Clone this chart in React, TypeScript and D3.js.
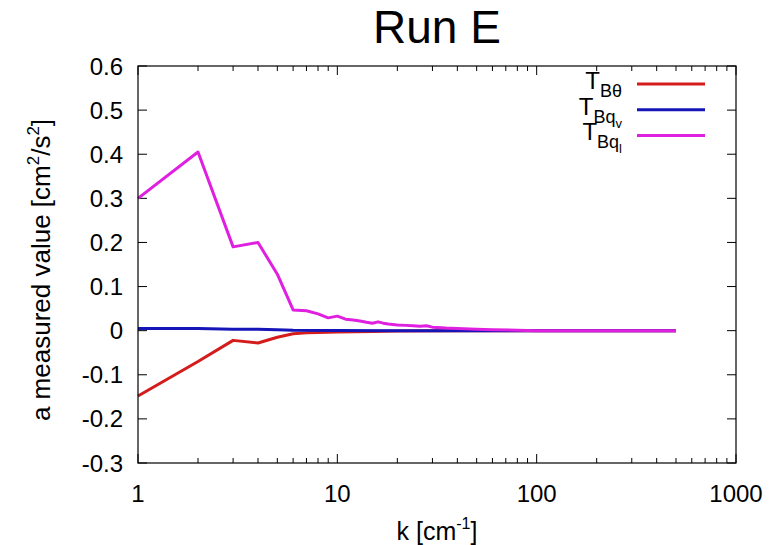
import React from "react";
import * as d3 from "d3";

const kMag = [1, 2, 3, 4, 5, 6, 7, 8, 9, 10, 11, 12, 13, 14, 15, 16, 17, 18, 20, 22, 24, 26, 28, 30, 35, 40, 50, 60, 80, 100, 200, 500];
const tBql = [0.3, 0.405, 0.19, 0.2, 0.128, 0.047, 0.045, 0.038, 0.029, 0.033, 0.026, 0.024, 0.022, 0.019, 0.017, 0.02, 0.017, 0.015, 0.013, 0.012, 0.011, 0.01, 0.011, 0.008, 0.006, 0.005, 0.003, 0.002, 0.001, 0.0, 0.0, 0.0];

const kRed = [1, 2, 3, 4, 5, 6, 7, 8, 10, 15, 20, 40, 100, 500];
const tBtheta = [-0.148, -0.07, -0.022, -0.028, -0.015, -0.007, -0.005, -0.004, -0.003, -0.002, -0.001, 0, 0, 0];

const kBlue = [1, 2, 3, 4, 5, 6, 10, 20, 100, 500];
const tBqv = [0.005, 0.005, 0.003, 0.003, 0.002, 0.001, 0.0005, 0, 0, 0];

const yTicks = [-0.3, -0.2, -0.1, 0, 0.1, 0.2, 0.3, 0.4, 0.5, 0.6];
const yTickLabels = ["-0.3", "-0.2", "-0.1", "0", "0.1", "0.2", "0.3", "0.4", "0.5", "0.6"];
const xTicks = [1, 10, 100, 1000];
const xTickLabels = ["1", "10", "100", "1000"];

const W = 780, H = 545;
const L = 138, R = 736, T = 66, B = 463;
const FONT = "'Liberation Sans', Arial, Helvetica, sans-serif";

export default function App() {
  const x = d3.scaleLog().domain([1, 1000]).range([L, R]);
  const y = d3.scaleLinear().domain([-0.3, 0.6]).range([B, T]);
  const line = d3.line<[number, number]>().x(d => x(d[0])).y(d => y(d[1]));

  const series = [
    { k: kRed, v: tBtheta, color: "#d41c1c", main: "T", sub: "Bθ", subsub: "" },
    { k: kBlue, v: tBqv, color: "#1616b8", main: "T", sub: "Bq", subsub: "v" },
    { k: kMag, v: tBql, color: "#e020e0", main: "T", sub: "Bq", subsub: "l" },
  ];

  const minor: number[] = [];
  for (let d = 1; d < 1000; d *= 10) for (let m = 2; m <= 9; m++) minor.push(d * m);

  return (
    <svg width={W} height={H} style={{ display: "block", position: "absolute", left: 0, top: 0 }} fontFamily={FONT}>
      <rect width={W} height={H} fill="#fff" />
      <text x={437} y={43} fontSize={46} textAnchor="middle" fill="#000">Run E</text>

      {/* y ticks */}
      {yTicks.map((t, i) => (
        <g key={"y" + t}>
          <line x1={L} x2={L + 9} y1={y(t)} y2={y(t)} stroke="#000" strokeWidth={1} />
          <line x1={R} x2={R - 9} y1={y(t)} y2={y(t)} stroke="#000" strokeWidth={1} />
          <text x={L - 15} y={y(t) + 8.5} fontSize={24} textAnchor="end" fill="#000">{yTickLabels[i]}</text>
        </g>
      ))}
      {/* x ticks */}
      {xTicks.map((t, i) => (
        <g key={"x" + t}>
          <line x1={x(t)} x2={x(t)} y1={B} y2={B - 9} stroke="#000" strokeWidth={1} />
          <line x1={x(t)} x2={x(t)} y1={T} y2={T + 9} stroke="#000" strokeWidth={1} />
          <text x={x(t)} y={B + 39} fontSize={24} textAnchor="middle" fill="#000">{xTickLabels[i]}</text>
        </g>
      ))}
      {minor.map(t => (
        <g key={"m" + t}>
          <line x1={x(t)} x2={x(t)} y1={B} y2={B - 5} stroke="#000" strokeWidth={1} />
          <line x1={x(t)} x2={x(t)} y1={T} y2={T + 5} stroke="#000" strokeWidth={1} />
        </g>
      ))}

      {/* data */}
      {series.map((s, i) => (
        <path key={i} d={line(s.k.map((k, j) => [k, s.v[j]] as [number, number])) || ""} fill="none" stroke={s.color} strokeWidth={3} strokeLinejoin="round" />
      ))}

      <rect x={L} y={T} width={R - L} height={B - T} fill="none" stroke="#000" strokeWidth={1.2} />

      {/* legend */}
      {series.map((s, i) => {
        const ly = 84 + i * 25.7;
        return (
          <g key={"lg" + i}>
            <line x1={637} x2={705} y1={ly} y2={ly} stroke={s.color} strokeWidth={3} />
            <text x={622} y={ly + 5} textAnchor="end" fill="#000">
              <tspan fontSize={24}>{s.main}</tspan>
              <tspan fontSize={18} dy={8}>{s.sub}</tspan>
              {s.subsub ? <tspan fontSize={13} dy={5}>{s.subsub}</tspan> : null}
            </text>
          </g>
        );
      })}

      {/* axis labels */}
      <text x={437} y={540} fontSize={25} textAnchor="middle" fill="#000">
        k [cm<tspan fontSize={16} dy={-11}>-1</tspan><tspan dy={11}>]</tspan>
      </text>
      <text transform={`translate(50,270) rotate(-90)`} fontSize={26} textAnchor="middle" fill="#000">
        a measured value [cm<tspan fontSize={17} dy={-11}>2</tspan><tspan dy={11}>/s</tspan><tspan fontSize={17} dy={-11}>2</tspan><tspan dy={11}>]</tspan>
      </text>
    </svg>
  );
}
